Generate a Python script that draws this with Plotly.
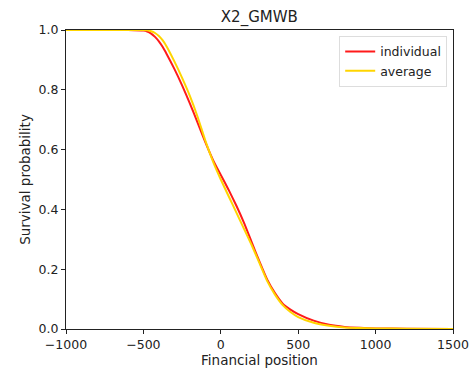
import plotly.graph_objects as go

# Survival probability curves against financial position
x_individual = [-1000, -600, -500, -475, -450, -425, -400, -375, -350, -300, -250, -200, -150, -100, -50, 0, 50, 100,
                150, 200, 250, 300, 350, 400, 450, 500, 600, 700, 800, 900, 1000, 1200, 1500]
y_individual = [1.0, 1.0, 0.998, 0.995, 0.988, 0.977, 0.962, 0.943, 0.92, 0.87, 0.815, 0.755, 0.69, 0.625, 0.565, 0.515, 0.466, 0.413,
                0.355, 0.29, 0.225, 0.165, 0.12, 0.085, 0.065, 0.05, 0.028, 0.014, 0.007, 0.004, 0.002, 0.001, 0.0]

x_average = [-1000, -600, -500, -475, -450, -425, -400, -375, -350, -300, -250, -200, -150, -100, -50, 0, 50, 100,
             150, 200, 250, 300, 350, 400, 450, 500, 600, 700, 800, 900, 1000, 1200, 1500]
y_average = [1.0, 1.0, 1.0, 0.999, 0.996, 0.99, 0.98, 0.965, 0.945, 0.895, 0.84, 0.78, 0.71, 0.63, 0.56, 0.5, 0.445, 0.39,
             0.335, 0.28, 0.22, 0.16, 0.115, 0.08, 0.057, 0.04, 0.021, 0.011, 0.005, 0.003, 0.002, 0.001, 0.0]

x_ticks = [-1000, -500, 0, 500, 1000, 1500]
y_ticks = [0.0, 0.2, 0.4, 0.6, 0.8, 1.0]

font = dict(family="DejaVu Sans", size=12.5, color="#222222")
label_font = dict(family="DejaVu Sans", size=13.5, color="#222222")

fig = go.Figure()
fig.add_trace(go.Scatter(x=x_individual, y=y_individual, mode="lines", name="individual",
                         line=dict(color="#ff1a1a", width=2, shape="spline", smoothing=0.5)))
fig.add_trace(go.Scatter(x=x_average, y=y_average, mode="lines", name="average",
                         line=dict(color="#ffd500", width=2, shape="spline", smoothing=0.5)))

axis_common = dict(showgrid=False, zeroline=False, showline=True, linecolor="#222222", linewidth=1,
                   mirror=True, ticks="outside", ticklen=4, tickwidth=1, tickcolor="#222222",
                   tickfont=font, automargin=False)

fig.update_layout(
    width=469, height=373,
    margin=dict(l=66, r=16, t=30, b=44),
    paper_bgcolor="white", plot_bgcolor="white",
    font=font,
    title=dict(text="X2_GMWB", x=0.553, xanchor="center", y=0.955, yanchor="middle",
               font=dict(family="DejaVu Sans", size=15, color="#222222")),
    xaxis=dict(range=[-1000, 1500], tickvals=x_ticks,
               title=dict(text="Financial position", standoff=3, font=label_font), **axis_common),
    yaxis=dict(range=[0, 1], tickvals=y_ticks, tickformat=".1f",
               title=dict(text="Survival probability", standoff=4, font=label_font), **axis_common),
    legend=dict(x=0.985, y=0.98, xanchor="right", yanchor="top", bgcolor="rgba(255,255,255,0.8)",
                bordercolor="#dddddd", borderwidth=1, font=font, itemwidth=30,
                tracegroupgap=2),
    showlegend=True,
)

fig.write_html("out.html")
